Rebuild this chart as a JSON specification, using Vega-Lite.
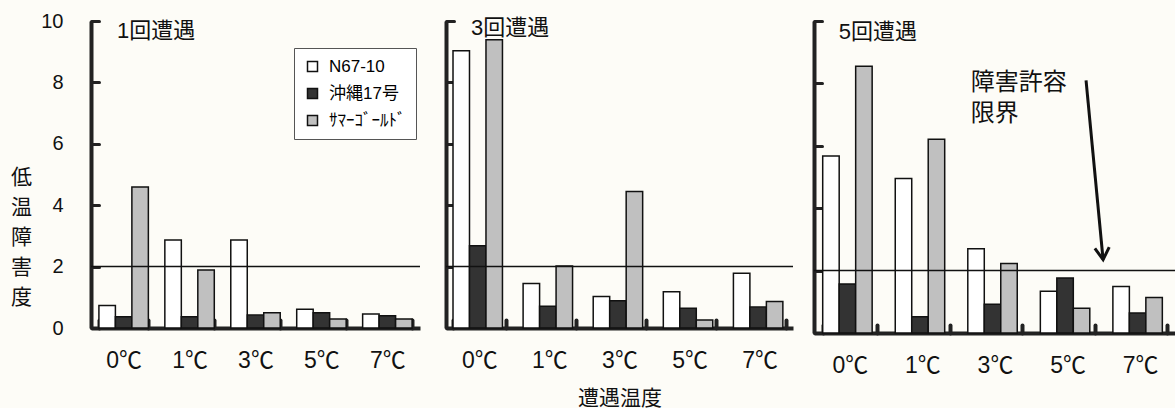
{
  "$schema": "https://vega.github.io/schema/vega-lite/v6.json",
  "background": "#fdfcf7",
  "padding": {"left": 10, "top": 11, "right": 0, "bottom": 0},
  "spacing": 23,
  "config": {
    "view": {"stroke": null},
    "font": "Liberation Sans, Noto Sans CJK JP",
    "axis": {"grid": false, "domainColor": "#222", "tickColor": "#222", "labelColor": "#111", "titleColor": "#111", "titleFontWeight": "normal"}
  },
  "datasets": {
    "bars": [
      {"panel": 1, "temp": "0℃", "variety": "N67-10", "value": 0.73},
      {"panel": 1, "temp": "0℃", "variety": "沖縄17号", "value": 0.37},
      {"panel": 1, "temp": "0℃", "variety": "ｻﾏｰｺﾞｰﾙﾄﾞ", "value": 4.59},
      {"panel": 1, "temp": "1℃", "variety": "N67-10", "value": 2.87},
      {"panel": 1, "temp": "1℃", "variety": "沖縄17号", "value": 0.37},
      {"panel": 1, "temp": "1℃", "variety": "ｻﾏｰｺﾞｰﾙﾄﾞ", "value": 1.89},
      {"panel": 1, "temp": "3℃", "variety": "N67-10", "value": 2.87},
      {"panel": 1, "temp": "3℃", "variety": "沖縄17号", "value": 0.42},
      {"panel": 1, "temp": "3℃", "variety": "ｻﾏｰｺﾞｰﾙﾄﾞ", "value": 0.5},
      {"panel": 1, "temp": "5℃", "variety": "N67-10", "value": 0.61},
      {"panel": 1, "temp": "5℃", "variety": "沖縄17号", "value": 0.5},
      {"panel": 1, "temp": "5℃", "variety": "ｻﾏｰｺﾞｰﾙﾄﾞ", "value": 0.29},
      {"panel": 1, "temp": "7℃", "variety": "N67-10", "value": 0.46},
      {"panel": 1, "temp": "7℃", "variety": "沖縄17号", "value": 0.4},
      {"panel": 1, "temp": "7℃", "variety": "ｻﾏｰｺﾞｰﾙﾄﾞ", "value": 0.29},
      {"panel": 3, "temp": "0℃", "variety": "N67-10", "value": 9.03},
      {"panel": 3, "temp": "0℃", "variety": "沖縄17号", "value": 2.68},
      {"panel": 3, "temp": "0℃", "variety": "ｻﾏｰｺﾞｰﾙﾄﾞ", "value": 9.39},
      {"panel": 3, "temp": "1℃", "variety": "N67-10", "value": 1.45},
      {"panel": 3, "temp": "1℃", "variety": "沖縄17号", "value": 0.71},
      {"panel": 3, "temp": "1℃", "variety": "ｻﾏｰｺﾞｰﾙﾄﾞ", "value": 2.02},
      {"panel": 3, "temp": "3℃", "variety": "N67-10", "value": 1.03},
      {"panel": 3, "temp": "3℃", "variety": "沖縄17号", "value": 0.89},
      {"panel": 3, "temp": "3℃", "variety": "ｻﾏｰｺﾞｰﾙﾄﾞ", "value": 4.45},
      {"panel": 3, "temp": "5℃", "variety": "N67-10", "value": 1.18},
      {"panel": 3, "temp": "5℃", "variety": "沖縄17号", "value": 0.64},
      {"panel": 3, "temp": "5℃", "variety": "ｻﾏｰｺﾞｰﾙﾄﾞ", "value": 0.26},
      {"panel": 3, "temp": "7℃", "variety": "N67-10", "value": 1.78},
      {"panel": 3, "temp": "7℃", "variety": "沖縄17号", "value": 0.68},
      {"panel": 3, "temp": "7℃", "variety": "ｻﾏｰｺﾞｰﾙﾄﾞ", "value": 0.86},
      {"panel": 5, "temp": "0℃", "variety": "N67-10", "value": 5.67},
      {"panel": 5, "temp": "0℃", "variety": "沖縄17号", "value": 1.57},
      {"panel": 5, "temp": "0℃", "variety": "ｻﾏｰｺﾞｰﾙﾄﾞ", "value": 8.55},
      {"panel": 5, "temp": "1℃", "variety": "N67-10", "value": 4.95},
      {"panel": 5, "temp": "1℃", "variety": "沖縄17号", "value": 0.52},
      {"panel": 5, "temp": "1℃", "variety": "ｻﾏｰｺﾞｰﾙﾄﾞ", "value": 6.21},
      {"panel": 5, "temp": "3℃", "variety": "N67-10", "value": 2.7},
      {"panel": 5, "temp": "3℃", "variety": "沖縄17号", "value": 0.92},
      {"panel": 5, "temp": "3℃", "variety": "ｻﾏｰｺﾞｰﾙﾄﾞ", "value": 2.23},
      {"panel": 5, "temp": "5℃", "variety": "N67-10", "value": 1.34},
      {"panel": 5, "temp": "5℃", "variety": "沖縄17号", "value": 1.76},
      {"panel": 5, "temp": "5℃", "variety": "ｻﾏｰｺﾞｰﾙﾄﾞ", "value": 0.79},
      {"panel": 5, "temp": "7℃", "variety": "N67-10", "value": 1.49},
      {"panel": 5, "temp": "7℃", "variety": "沖縄17号", "value": 0.64},
      {"panel": 5, "temp": "7℃", "variety": "ｻﾏｰｺﾞｰﾙﾄﾞ", "value": 1.14}
    ],
    "limit": [{"limit": 2}],
    "annot": [{"text": "障害許容\n限界"}]
  },
  "hconcat": [
    {
      "width": 329,
      "height": 307,
      "layer": [
        {
          "data": {"name": "bars"},
          "transform": [{"filter": "datum.panel == 1"}],
          "mark": {"type": "bar", "stroke": "#111", "strokeWidth": 1.5},
          "encoding": {
            "x": {"field": "temp", "type": "nominal", "sort": ["0℃", "1℃", "3℃", "5℃", "7℃"],
              "scale": {"paddingInner": 0.25, "paddingOuter": 0.12},
              "axis": {"title": null, "labelAngle": 0, "labelFontSize": 23, "labelPadding": 29, "tickBand": "extent", "tickSize": -8, "tickWidth": 4, "tickCap": "round", "domainWidth": 4}},
            "xOffset": {"field": "variety", "sort": ["N67-10", "沖縄17号", "ｻﾏｰｺﾞｰﾙﾄﾞ"]},
            "y": {"field": "value", "type": "quantitative", "scale": {"domain": [0, 10]},
              "axis": {"values": [0, 2, 4, 6, 8, 10], "labelFontSize": 20, "labelPadding": 36, "tickSize": -8, "tickWidth": 3, "tickCap": "round", "domainWidth": 4,
                "title": ["低", "温", "障", "害", "度"], "titleAngle": 0, "titleX": -70, "titleY": 156, "titleFontSize": 21, "titleLineHeight": 30, "titleBaseline": "middle", "titleAlign": "center"}},
            "fill": {"field": "variety", "type": "nominal",
              "scale": {"domain": ["N67-10", "沖縄17号", "ｻﾏｰｺﾞｰﾙﾄﾞ"], "range": ["#ffffff", "#333333", "#c0c0c0"]},
              "legend": {"title": null, "orient": "none", "legendX": 203, "legendY": 27, "fillColor": "#ffffff", "strokeColor": "#555", "padding": 10,
                "symbolType": "square", "symbolSize": 100, "symbolStrokeColor": "#111", "symbolStrokeWidth": 1.5, "labelFontSize": 17, "rowPadding": 9, "labelOffset": 8}}
          }
        },
        {
          "data": {"name": "limit"},
          "mark": {"type": "rule", "stroke": "#111", "strokeWidth": 1.5},
          "encoding": {"y": {"field": "limit", "type": "quantitative"}}
        },
        {
          "data": {"values": [{"t": "1回遭遇"}]},
          "mark": {"type": "text", "align": "left", "baseline": "middle", "fontSize": 22, "dx": 18, "color": "#111"},
          "encoding": {"x": {"datum": "0℃", "bandPosition": 0}, "y": {"datum": 9.67, "type": "quantitative"}, "text": {"field": "t"}}
        }
      ]
    },
    {
      "spacing": 18,
      "hconcat": [
        {
          "width": 347,
          "height": 307,
          "layer": [
            {
              "data": {"name": "bars"},
              "transform": [{"filter": "datum.panel == 3"}],
              "mark": {"type": "bar", "stroke": "#111", "strokeWidth": 1.5},
              "encoding": {
                "x": {"field": "temp", "type": "nominal", "sort": ["0℃", "1℃", "3℃", "5℃", "7℃"],
                  "scale": {"paddingInner": 0.25, "paddingOuter": 0.1},
                  "axis": {"title": "遭遇温度", "titleFontSize": 21, "titlePadding": 15, "labelAngle": 0, "labelFontSize": 23, "labelPadding": 29, "tickBand": "extent", "tickSize": -8, "tickWidth": 4, "tickCap": "round", "domainWidth": 4}},
                "xOffset": {"field": "variety", "sort": ["N67-10", "沖縄17号", "ｻﾏｰｺﾞｰﾙﾄﾞ"]},
                "y": {"field": "value", "type": "quantitative", "scale": {"domain": [0, 10]},
                  "axis": {"values": [0, 2, 4, 6, 8, 10], "labels": false, "title": null, "tickSize": -8, "tickWidth": 3, "tickCap": "round", "domainWidth": 4}},
                "fill": {"field": "variety", "type": "nominal",
                  "scale": {"domain": ["N67-10", "沖縄17号", "ｻﾏｰｺﾞｰﾙﾄﾞ"], "range": ["#ffffff", "#333333", "#c0c0c0"]},
                  "legend": null}
              }
            },
            {
              "data": {"name": "limit"},
              "mark": {"type": "rule", "stroke": "#111", "strokeWidth": 1.5},
              "encoding": {"y": {"field": "limit", "type": "quantitative"}}
            },
            {
              "data": {"values": [{"t": "3回遭遇"}]},
              "mark": {"type": "text", "align": "left", "baseline": "middle", "fontSize": 22, "dx": 18, "color": "#111"},
              "encoding": {"x": {"datum": "0℃", "bandPosition": 0}, "y": {"datum": 9.77, "type": "quantitative"}, "text": {"field": "t"}}
            }
          ]
        },
        {
          "width": 362,
          "height": 312,
          "layer": [
            {
              "data": {"name": "bars"},
              "transform": [{"filter": "datum.panel == 5"}],
              "mark": {"type": "bar", "stroke": "#111", "strokeWidth": 1.5},
              "encoding": {
                "x": {"field": "temp", "type": "nominal", "sort": ["0℃", "1℃", "3℃", "5℃", "7℃"],
                  "scale": {"paddingInner": 0.25, "paddingOuter": 0.12},
                  "axis": {"title": null, "labelAngle": 0, "labelFontSize": 23, "labelPadding": 29, "tickBand": "extent", "tickSize": -8, "tickWidth": 4, "tickCap": "round", "domainWidth": 4}},
                "xOffset": {"field": "variety", "sort": ["N67-10", "沖縄17号", "ｻﾏｰｺﾞｰﾙﾄﾞ"]},
                "y": {"field": "value", "type": "quantitative", "scale": {"domain": [0, 10]},
                  "axis": {"values": [0, 2, 4, 6, 8, 10], "labels": false, "title": null, "tickSize": -8, "tickWidth": 3, "tickCap": "round", "domainWidth": 4}},
                "fill": {"field": "variety", "type": "nominal",
                  "scale": {"domain": ["N67-10", "沖縄17号", "ｻﾏｰｺﾞｰﾙﾄﾞ"], "range": ["#ffffff", "#333333", "#c0c0c0"]},
                  "legend": null}
              }
            },
            {
              "data": {"name": "limit"},
              "mark": {"type": "rule", "stroke": "#111", "strokeWidth": 1.5},
              "encoding": {"y": {"field": "limit", "type": "quantitative"}}
            },
            {
              "data": {"values": [{"t": "5回遭遇"}]},
              "mark": {"type": "text", "align": "left", "baseline": "middle", "fontSize": 22, "dx": 16, "color": "#111"},
              "encoding": {"x": {"datum": "0℃", "bandPosition": 0}, "y": {"datum": 9.65, "type": "quantitative"}, "text": {"field": "t"}}
            },
            {
              "data": {"name": "annot"},
              "mark": {"type": "text", "align": "left", "baseline": "top", "fontSize": 24, "lineBreak": "\n", "lineHeight": 31, "dx": 3, "color": "#111"},
              "encoding": {"x": {"datum": "3℃", "bandPosition": 0}, "y": {"datum": 8.4, "type": "quantitative"}, "text": {"field": "text"}}
            },
            {
              "data": {"values": [{"a": 1}]},
              "mark": {"type": "rule", "stroke": "#111", "strokeWidth": 3},
              "encoding": {
                "x": {"datum": "5℃", "bandPosition": 0.84}, "y": {"datum": 8.1, "type": "quantitative"},
                "x2": {"datum": "7℃", "bandPosition": -0.18}, "y2": {"datum": 2.35}
              }
            },
            {
              "data": {"values": [{"a": 1}]},
              "mark": {"type": "point", "shape": "M -0.6 -1 L 0 0 L 0.6 -1", "filled": false, "stroke": "#111", "strokeWidth": 3, "size": 576, "angle": -5, "opacity": 1},
              "encoding": {"x": {"datum": "7℃", "bandPosition": -0.18}, "y": {"datum": 2.35, "type": "quantitative"}}
            }
          ]
        }
      ]
    }
  ]
}
